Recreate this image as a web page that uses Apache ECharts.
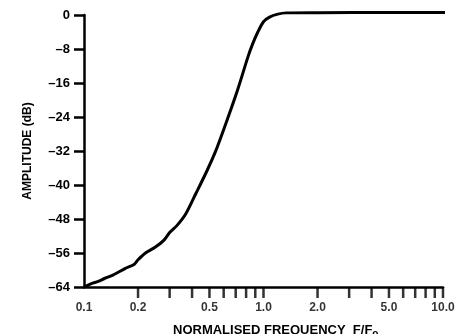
<!DOCTYPE html>
<html>
<head>
<meta charset="utf-8">
<script src="https://cdn.jsdelivr.net/npm/echarts@6/dist/echarts.min.js"></script>
<style>html,body{margin:0;padding:0;background:#fff;}#c{width:469px;height:334px;}</style>
</head>
<body>
<div id="c"></div>
<script>
// Normalised frequency F/Fo and amplitude (dB)
var freq = [0.1, 0.11, 0.12, 0.13, 0.145, 0.17, 0.19, 0.2, 0.22, 0.25, 0.28, 0.3, 0.33, 0.37, 0.42, 0.48, 0.544, 0.632, 0.72, 0.82, 0.87, 0.93, 1.0, 1.08, 1.2, 1.34, 2.0, 5.0, 10.0, 11.2];
var amp  = [-64, -63.2, -62.7, -62.0, -61.2, -59.6, -58.7, -57.6, -56.0, -54.6, -52.9, -51.2, -49.5, -46.7, -42.0, -37.0, -31.8, -24.3, -17.4, -9.8, -6.8, -4.0, -1.6, -0.5, 0.2, 0.5, 0.55, 0.6, 0.6, 0.6];
var yTicks = [0, -8, -16, -24, -32, -40, -48, -56, -64];
var xTickVals = [0.2, 0.3, 0.4, 0.5, 0.6, 0.7, 0.8, 0.9, 1, 2, 3, 4, 5, 6, 7, 8, 9, 10];
var xLabelVals = [0.1, 0.2, 0.5, 1, 2, 5, 10];
var xLabelText = ['0.1', '0.2', '0.5', '1.0', '2.0', '5.0', '10.0'];
var yName = 'AMPLITUDE (dB)';
var xName = 'NORMALISED FREQUENCY  F/F';
var xNameSub = 'o';

var font = 'Liberation Sans, Arial, sans-serif';
var chart = echarts.init(document.getElementById('c'));
var curve = freq.map(function (f, i) { return [f, amp[i]]; });
chart.setOption({
  animation: false,
  backgroundColor: '#fff',
  title: {
    text: '{a|' + xName + '}{b|' + xNameSub + '}',
    left: 168, top: 316,
    textStyle: {
      rich: {
        a: { fontFamily: font, fontWeight: 'bold', fontSize: 13, color: '#000' },
        b: { fontFamily: font, fontWeight: 'bold', fontSize: 10, color: '#000', padding: [8, 0, 0, 0] }
      }
    }
  },
  grid: { left: 84, right: 26, top: 15, bottom: 47, containLabel: false },
  xAxis: {
    type: 'log', logBase: 10, min: 0.1, max: 10,
    axisLine: { onZero: false, lineStyle: { color: '#000', width: 2.5 } },
    axisTick: { show: false }, axisLabel: { show: false }, splitLine: { show: false }, minorTick: { show: false }
  },
  yAxis: {
    type: 'value', min: -64, max: 0, interval: 8,
    name: yName, nameLocation: 'middle', nameGap: 50,
    nameTextStyle: { fontFamily: font, fontWeight: 'bold', fontSize: 12, color: '#000' },
    axisLine: { show: true, onZero: false, lineStyle: { color: '#000', width: 2.5 } },
    axisTick: { show: true, inside: false, length: 10, lineStyle: { color: '#000', width: 2.5 } },
    axisLabel: {
      margin: 14, fontFamily: font, fontWeight: 'bold', fontSize: 13, color: '#000',
      formatter: function (v) { return v < 0 ? '\u2013' + Math.abs(v) : String(v); }
    },
    splitLine: { show: false }
  },
  series: [
    {
      type: 'line', data: curve, showSymbol: false, smooth: 0.25, clip: false,
      lineStyle: { color: '#000', width: 3 }
    },
    {
      type: 'scatter', clip: false, silent: true,
      data: xTickVals.map(function (v) { return [v, -64]; }),
      symbol: 'rect', symbolSize: [2.5, 11], symbolOffset: [0, 5.5],
      itemStyle: { color: '#000' }
    },
    {
      type: 'scatter', clip: false, silent: true,
      data: xLabelVals.map(function (v, i) { return { value: [v, -64], name: xLabelText[i] }; }),
      symbolSize: 0,
      label: {
        show: true, position: 'bottom', distance: 15, formatter: '{b}',
        fontFamily: font, fontWeight: 'bold', fontSize: 12, color: '#000'
      }
    }
  ]
});
</script>
</body>
</html>
